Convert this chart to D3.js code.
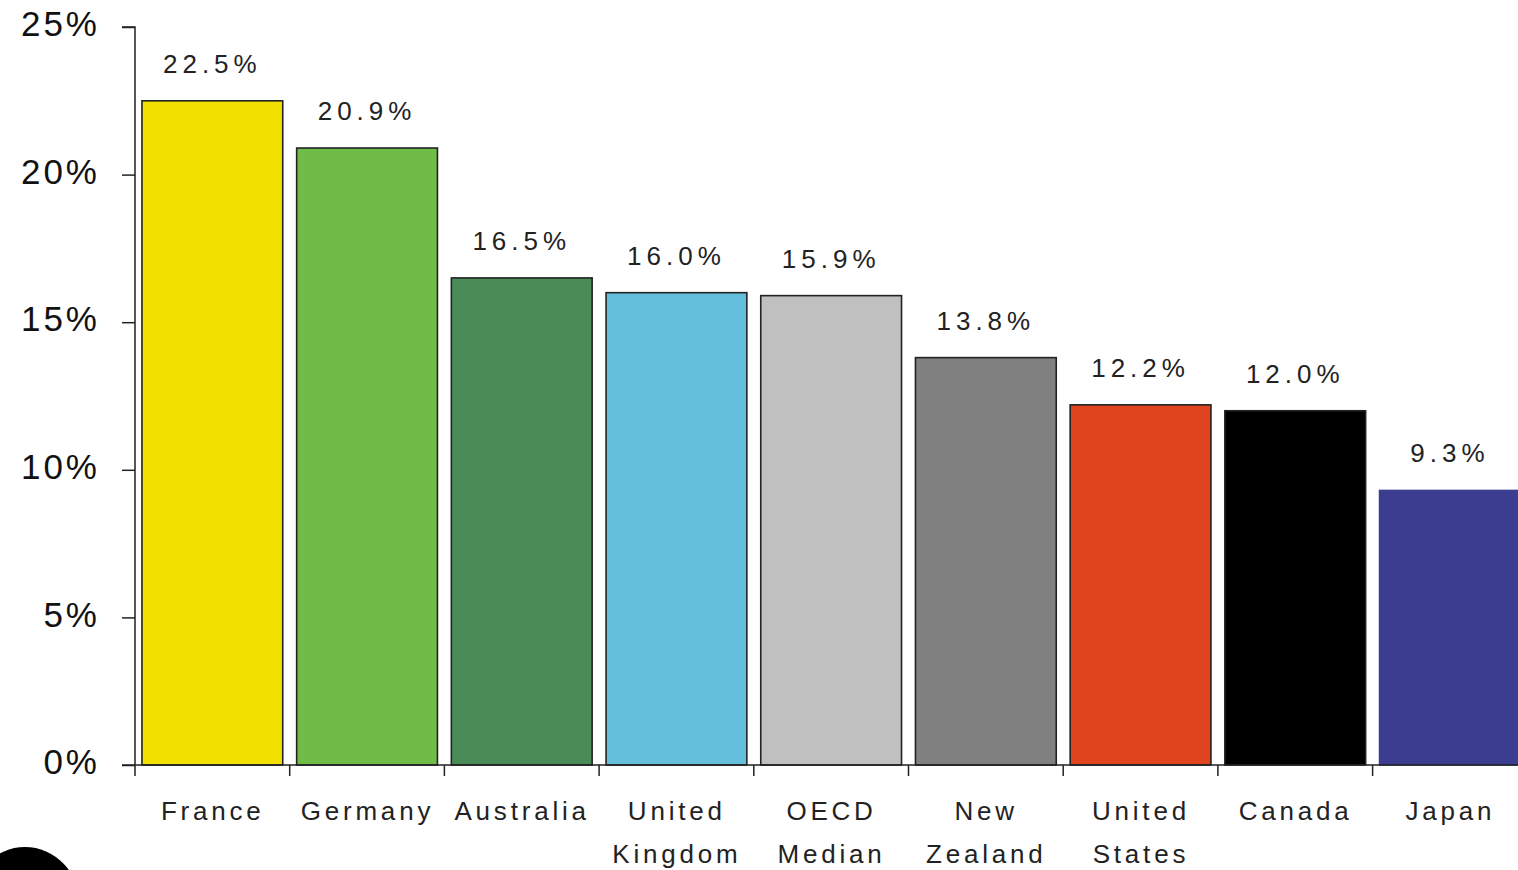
<!DOCTYPE html>
<html><head><meta charset="utf-8">
<script src="https://cdn.jsdelivr.net/npm/d3@7"></script>
<style>html,body{margin:0;padding:0;background:#fff;overflow:hidden}svg{display:block}</style>
</head><body>
<svg id="c" width="1518" height="870"></svg>
<script>
const categories = [["France"],["Germany"],["Australia"],["United","Kingdom"],["OECD","Median"],["New","Zealand"],["United","States"],["Canada"],["Japan"]];
const values = [22.5, 20.9, 16.5, 16.0, 15.9, 13.8, 12.2, 12.0, 9.3];
const colors = ["#f2e100","#70bc48","#4a8c58","#64bfdd","#c0c0c0","#808080","#e0441f","#000000","#3c3d90"];
const yTicks = [0,5,10,15,20,25];

const svg = d3.select("#c");
const x0 = 135, yBase = 765, yTop = 27;
const keys = categories.map((d,i)=>i);
const x = d3.scaleBand().domain(keys).range([x0, x0 + 9*154.7]).paddingInner(0.09).paddingOuter(0.045);
const y = d3.scaleLinear().domain([0,25]).range([yBase, yTop]);
const FONT = "'Liberation Sans', Arial, sans-serif";

// bars
svg.append("g").selectAll("rect").data(values).join("rect")
  .attr("x",(d,i)=>x(i)).attr("y",d=>y(d))
  .attr("width",x.bandwidth()).attr("height",d=>yBase-y(d))
  .attr("fill",(d,i)=>colors[i])
  .attr("stroke",(d,i)=>i===8?"#3c3d90":"#222").attr("stroke-width",1.6);

// y axis
const ya = svg.append("g").attr("transform",`translate(${x0},0)`)
  .call(d3.axisLeft(y).tickValues(yTicks).tickSize(13).tickFormat(d=>d+"%"));
ya.select(".domain").attr("stroke","#222").attr("stroke-width",1.5).attr("d",`M-13,${yTop}H0V${yBase}`);
ya.selectAll(".tick line").attr("stroke","#222").attr("stroke-width",1.5);
ya.selectAll(".tick text").attr("x",-35).attr("dy","0.25em")
  .style("font-family",FONT).style("font-size","35px")
  .style("letter-spacing","3px").attr("fill","#111");

// x axis
const xa = svg.append("g").attr("transform",`translate(0,${yBase})`);
xa.append("line").attr("x1",x0-13).attr("x2",1518).attr("y1",0).attr("y2",0).attr("stroke","#222").attr("stroke-width",1.5);
const step = x.step();
xa.selectAll("line.t").data(d3.range(10)).join("line").attr("class","t")
  .attr("x1",i=>x0 + i*step).attr("x2",i=>x0 + i*step)
  .attr("y1",0).attr("y2",11).attr("stroke","#222").attr("stroke-width",1.5);

const lab = svg.append("g").style("font-family",FONT)
  .style("font-size","26px").style("letter-spacing","3.8px").attr("fill","#222");
categories.forEach((lines,i)=>{
  const cx = x(i)+x.bandwidth()/2 + 0.4;
  const t = lab.append("text").attr("text-anchor","middle").attr("x",cx);
  lines.forEach((l,j)=>t.append("tspan").attr("x",cx).attr("y",820+j*43).text(l));
});

// value labels
svg.append("g").selectAll("text").data(values).join("text")
  .attr("x",(d,i)=>x(i)+x.bandwidth()/2).attr("y",d=>y(d)-28)
  .attr("text-anchor","middle")
  .style("font-family",FONT).style("font-size","26px")
  .style("letter-spacing","5px").attr("fill","#222")
  .text(d=>d.toFixed(1)+"%");

// decorative corner shape
svg.append("ellipse").attr("cx",25).attr("cy",905).attr("rx",55).attr("ry",58).attr("fill","#000");
</script>
</body></html>
